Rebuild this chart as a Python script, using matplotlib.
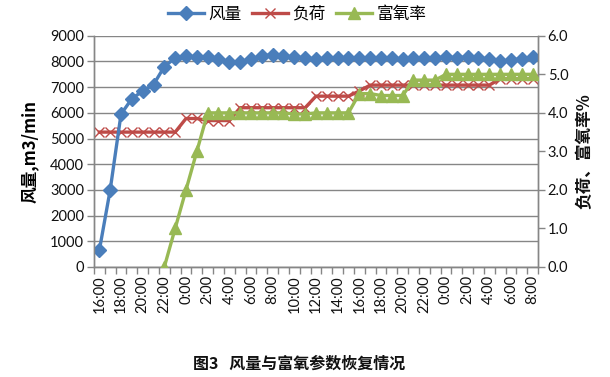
import matplotlib
matplotlib.use("Agg")
import matplotlib.pyplot as plt
from matplotlib.lines import Line2D
import numpy as np

# ---- data ----
hours = [(16 + i) % 24 for i in range(41)]
time_labels = [f"{h}:00" for h in hours]

air_flow = [650, 3000, 5950, 6550, 6850, 7100, 7800, 8140, 8210, 8180,
            8180, 8090, 7990, 7990, 8090, 8210, 8270, 8210, 8180, 8140,
            8100, 8120, 8120, 8120, 8120, 8140, 8120, 8120, 8100, 8140,
            8140, 8140, 8180, 8140, 8180, 8140, 8100, 8000, 8050, 8110, 8170]

load = [5250, 5250, 5250, 5250, 5250, 5250, 5250, 5250, 5780, 5780,
        5700, 5700, 5700, 6200, 6200, 6200, 6200, 6200, 6200, 6200,
        6650, 6650, 6650, 6650, 6850, 7080, 7080, 7080, 7080, 7080,
        7080, 7080, 7080, 7080, 7080, 7080, 7080, 7320, 7320, 7320, 7320]

oxygen_rate = [None, None, None, None, None, None, 0.0, 1.0, 2.0, 3.0,
               4.0, 4.0, 4.0, 4.0, 4.0, 4.0, 4.0, 4.0, 3.97, 3.97,
               4.0, 4.0, 4.0, 4.0, 4.5, 4.5, 4.45, 4.45, 4.45, 4.85,
               4.85, 4.85, 5.0, 5.0, 5.0, 5.0, 5.0, 5.0, 5.0, 5.0, 5.0]

left_ticks = list(range(0, 9001, 1000))
right_ticks = [0, 1, 2, 3, 4, 5, 6]

# ---- style ----
FONT = ['Lato', 'Noto Sans CJK SC', 'DejaVu Sans']
CJK = ['Noto Sans CJK SC', 'DejaVu Sans']
plt.rcParams['font.family'] = FONT
BLUE = '#4a7ebb'
RED = '#be4b48'
GREEN = '#98b954'
GRID = '#868686'
TXT = '#111111'

fig = plt.figure(figsize=(6.10, 3.77), dpi=100)
ax = fig.add_axes([0.154, 0.292, 0.728, 0.613])
ax2 = ax.twinx()

x = np.arange(len(time_labels))

# left axis series
ax.plot(x, load, color=RED, lw=2.4, marker='x', ms=7, mew=1.0,
        mec=RED, zorder=3)
ax.plot(x, air_flow, color=BLUE, lw=2.4, marker='D', ms=7.5,
        mfc=BLUE, mec=BLUE, zorder=4)

# right axis series
ox = np.array([np.nan if v is None else v for v in oxygen_rate], dtype=float)
ax2.plot(x, ox, color=GREEN, lw=2.4, marker='^', ms=9, mfc=GREEN,
         mec=GREEN, zorder=3)

ax.set_xlim(-0.5, len(x) - 0.5)
ax.set_ylim(0, 9000)
ax2.set_ylim(0, 6)

ax.set_yticks(left_ticks)
ax.set_yticklabels([str(v) for v in left_ticks], fontsize=10.5, color=TXT)
ax2.set_yticks(right_ticks)
ax2.set_yticklabels([f"{v:.1f}" for v in right_ticks], fontsize=10.5, color=TXT)

ax.set_xticks(x[::2])
ax.set_xticklabels(time_labels[::2], rotation=90, fontsize=10.5, color=TXT)
ax.set_xticks(np.arange(-0.5, len(x), 1.0), minor=True)
ax.tick_params(axis='x', which='major', length=0, pad=6)
ax.tick_params(axis='x', which='minor', length=5, color=GRID, width=1)
ax.tick_params(axis='y', length=5, color=GRID, width=1, pad=2)
ax2.tick_params(axis='y', length=5, color=GRID, width=1, pad=2)

ax.yaxis.grid(True, color=GRID, lw=1)
ax.set_axisbelow(True)

for a in (ax, ax2):
    a.spines['top'].set_visible(False)
    for s in ('left', 'right', 'bottom'):
        a.spines[s].set_color(GRID)
        a.spines[s].set_linewidth(1)

ax.set_ylabel('风量,m3/min', fontsize=12, fontweight='bold',
              family=CJK, labelpad=8)
ax2.text(1.105, 0.5, '负荷、富氧率%', transform=ax.transAxes, rotation=90,
         ha='center', va='center', fontsize=12, fontweight='bold',
         family=CJK, color=TXT)

handles = [
    Line2D([], [], color=BLUE, lw=2.4, marker='D', ms=7.5),
    Line2D([], [], color=RED, lw=2.4, marker='x', ms=7, mew=1.0),
    Line2D([], [], color=GREEN, lw=2.4, marker='^', ms=9),
]
fig.legend(handles, ['风量', '负荷', '富氧率'], loc='upper center',
           bbox_to_anchor=(0.487, 1.025), ncol=3, frameon=False,
           prop={'family': CJK, 'size': 12}, handlelength=2.2,
           columnspacing=0.6, handletextpad=0.25)

fig.text(0.49, 0.035, '图3   风量与富氧参数恢复情况', ha='center', va='center',
         fontsize=11.5, fontweight='bold', family=CJK, color=TXT)

fig.savefig('out.png', dpi=100)
